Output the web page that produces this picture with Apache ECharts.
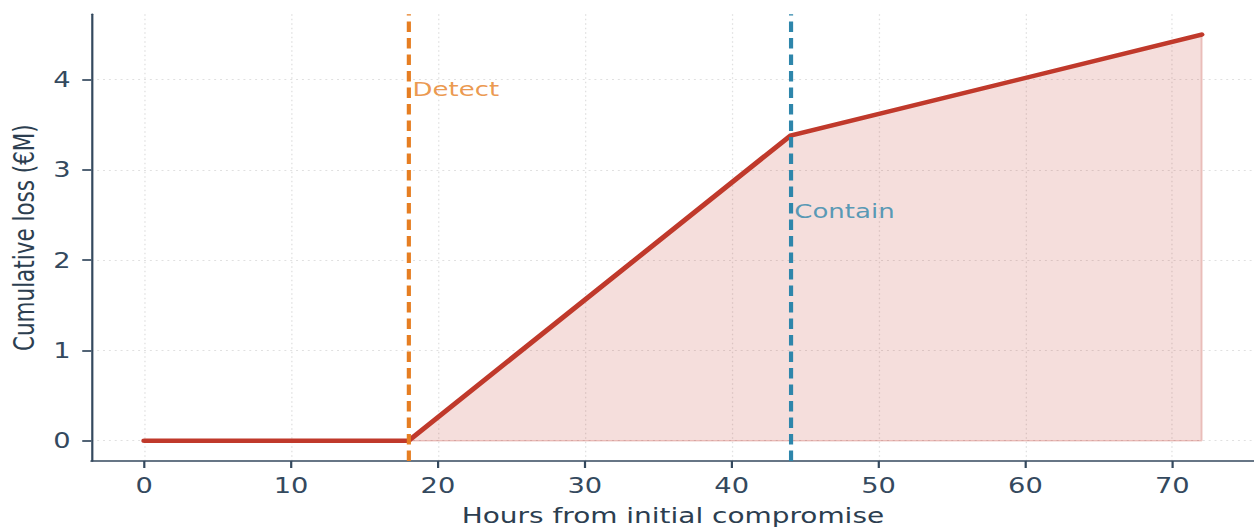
<!DOCTYPE html>
<html>
<head>
<meta charset="utf-8">
<script src="https://cdn.jsdelivr.net/npm/echarts@6/dist/echarts.min.js"></script>
<style>
  html, body { margin: 0; padding: 0; background: #ffffff; overflow: hidden; }
  #wrap { width: 1254px; height: 532px; overflow: hidden; }
  #chart { width: 965px; height: 532px; transform: scaleX(1.3); transform-origin: 0 0; }
</style>
</head>
<body>
<div id="wrap"><div id="chart"></div></div>
<script>
// ---- data ----
const hours = [0, 18, 44, 72];
const lossM = [0, 0, 3.38, 4.5];
const eventNames = ['Detect', 'Contain'];
const eventHours = [18, 44];
const eventLabelY = [3.9, 2.55];
const eventColors = ['#e67e22', '#2e86ab'];
const xTicks = [0, 10, 20, 30, 40, 50, 60, 70];
const yTicks = [0, 1, 2, 3, 4];

const FONT = 'DejaVu Sans';
const AXIS_COLOR = '#34495e';
const LINE_COLOR = '#c0392b';

const lineData = hours.map((h, i) => [h, lossM[i]]);
const lastH = hours[hours.length - 1];
const lastL = lossM[lossM.length - 1];
const edgeData = [[eventHours[0], 0], [lastH, 0], [lastH, lastL]];

const chart = echarts.init(document.getElementById('chart'), null, { renderer: 'svg' });

function axisCommon(ticks) {
  return {
    type: 'value',
    axisLine: { show: true, onZero: false, lineStyle: { color: AXIS_COLOR, width: 1.7 } },
    axisTick: { show: true, length: 7, customValues: ticks, lineStyle: { color: AXIS_COLOR, width: 1.7 } },
    axisLabel: { show: true, customValues: ticks, color: AXIS_COLOR, fontFamily: FONT, fontSize: 21 },
    splitLine: { show: true, lineStyle: { color: '#e0e0e0', width: 1, type: [1.5, 3] } },
    nameLocation: 'middle',
    nameTextStyle: { color: '#2c3e50', fontFamily: FONT, fontSize: 21.5 }
  };
}

const xAxis = Object.assign(axisCommon(xTicks), {
  min: -3.6, max: 75.6,
  name: 'Hours from initial compromise',
  nameGap: 44
});
xAxis.axisLabel.margin = 14;

const yAxis = Object.assign(axisCommon(yTicks), {
  min: -0.225, max: 4.725,
  name: 'Cumulative loss (€M)',
  nameGap: 40
});
yAxis.axisLabel.margin = 16;

chart.setOption({
  animation: false,
  backgroundColor: '#ffffff',
  grid: { left: 69.3, right: 0, top: 14.3, bottom: 67.5 },
  xAxis: xAxis,
  yAxis: yAxis,
  series: [
    {
      type: 'line',
      data: lineData,
      symbol: 'none',
      z: 3,
      lineStyle: { color: LINE_COLOR, width: 4.4, cap: 'round', join: 'round' },
      areaStyle: { color: 'rgba(192,57,43,0.235)', origin: 0 }
    },
    {
      type: 'line',
      data: edgeData,
      symbol: 'none',
      z: 2,
      lineStyle: { color: 'rgba(192,57,43,0.25)', width: 1.5 }
    },
    {
      type: 'line',
      data: [],
      z: 5,
      markLine: {
        silent: true,
        symbol: 'none',
        label: { show: false },
        data: eventHours.map((h, i) => ({
          xAxis: h,
          lineStyle: { color: eventColors[i], width: 3.2, type: [10.5, 6] }
        }))
      }
    },
    {
      type: 'scatter',
      z: 6,
      symbolSize: 0,
      silent: true,
      data: eventHours.map((h, i) => ({
        value: [h, eventLabelY[i]],
        label: {
          show: true,
          position: 'right',
          distance: 3,
          formatter: eventNames[i],
          color: eventColors[i],
          fontFamily: FONT,
          fontSize: 20
        }
      }))
    }
  ]
});
</script>
</body>
</html>
